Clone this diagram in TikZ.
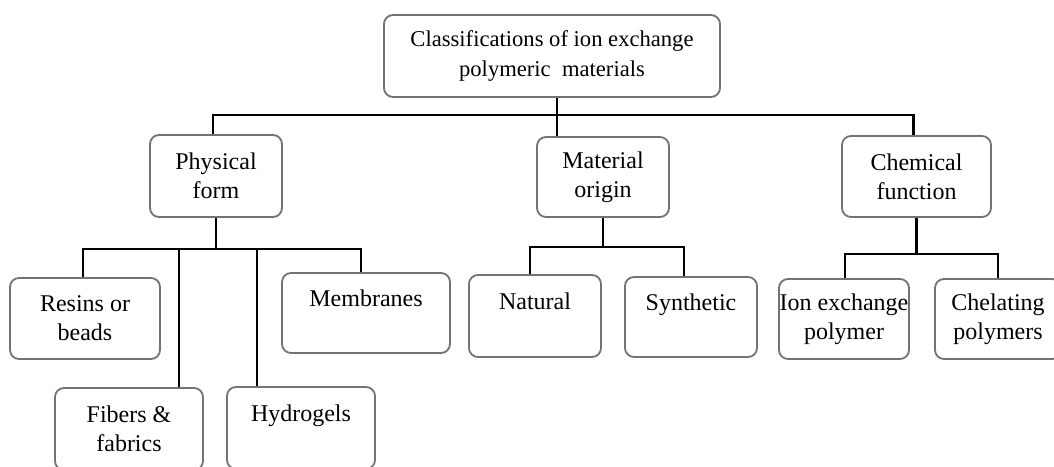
\documentclass[tikz,border=0pt]{standalone}
\usepackage{fontspec}
\setmainfont{Liberation Serif}
\begin{document}
\begin{tikzpicture}[x=1pt,y=-1pt,
  box/.style={draw=black!55, line width=1.8pt, rounded corners=9pt, inner sep=0pt,
    align=center, font=\fontsize{24}{29}\selectfont},
  conn/.style={draw=black, line width=2.7pt}]
\clip (0,0) rectangle (1054,466);
\fill[white] (0,0) rectangle (1054,466);
% nodes
\node[box, minimum width=336pt, minimum height=82pt, font=\fontsize{22.6}{30}\selectfont] (top) at (552,56) {Classifications of ion exchange\\polymeric\ \ materials};
\node[box, minimum width=132pt, minimum height=82pt] (phys) at (216,176) {Physical\\form};
\node[box, minimum width=132pt, minimum height=80pt] (mat) at (603,177) {Material\\origin};
\node[box, minimum width=149pt, minimum height=81pt] (chem) at (916.5,176.5) {Chemical\\function};
\node[box, minimum width=150pt, minimum height=81pt] (resins) at (85,318.5) {Resins or\\beads};
\node[box, minimum width=148pt, minimum height=82pt] (fibers) at (129,429) {Fibers \&\\fabrics};
\node[box, minimum width=148pt, minimum height=82pt] (hydro) at (301,428) {Hydrogels\\\mbox{}};
\node[box, minimum width=168pt, minimum height=80pt] (memb) at (366,313) {Membranes\\\mbox{}};
\node[box, minimum width=132pt, minimum height=82pt] (natural) at (535,316) {Natural\\\mbox{}};
\node[box, minimum width=132pt, minimum height=80pt] (synth) at (691,317) {Synthetic\\\mbox{}};
\node[box, minimum width=130pt, minimum height=80pt] (ion) at (844,319) {Ion exchange\\polymer};
\node[box, minimum width=126pt, minimum height=80pt] (chel) at (998,319) {Chelating\\polymers};
% top level connectors
\draw[conn] ([xshift=5pt]top.south) -- ++(0,17) coordinate (b0);
\draw[conn] ([xshift=-3pt]phys.north) |- ([xshift=-3pt]chem.north |- b0) -- ([xshift=-3pt]chem.north);
\draw[conn] (mat.north -| b0) -- (b0);
% physical form
\draw[conn] (phys.south) -- ++(0,31) coordinate (b1);
\draw[conn] ([xshift=-2pt]resins.north) |- ([xshift=-5pt]memb.north |- b1) -- ([xshift=-5pt]memb.north);
\draw[conn] ([xshift=50pt]fibers.north) -- ([xshift=50pt]fibers.north |- b1);
\draw[conn] ([xshift=-44pt]hydro.north) -- ([xshift=-44pt]hydro.north |- b1);
% material origin
\draw[conn] (mat.south) -- ++(0,29) coordinate (b2);
\draw[conn] ([xshift=-5pt]natural.north) |- ([xshift=-7pt]synth.north |- b2) -- ([xshift=-7pt]synth.north);
% chemical function
\draw[conn] (chem.south) -- ++(0,36) coordinate (b3);
\draw[conn] ([xshift=1pt]ion.north) |- (chel.north |- b3) -- (chel.north);
\end{tikzpicture}
\end{document}
